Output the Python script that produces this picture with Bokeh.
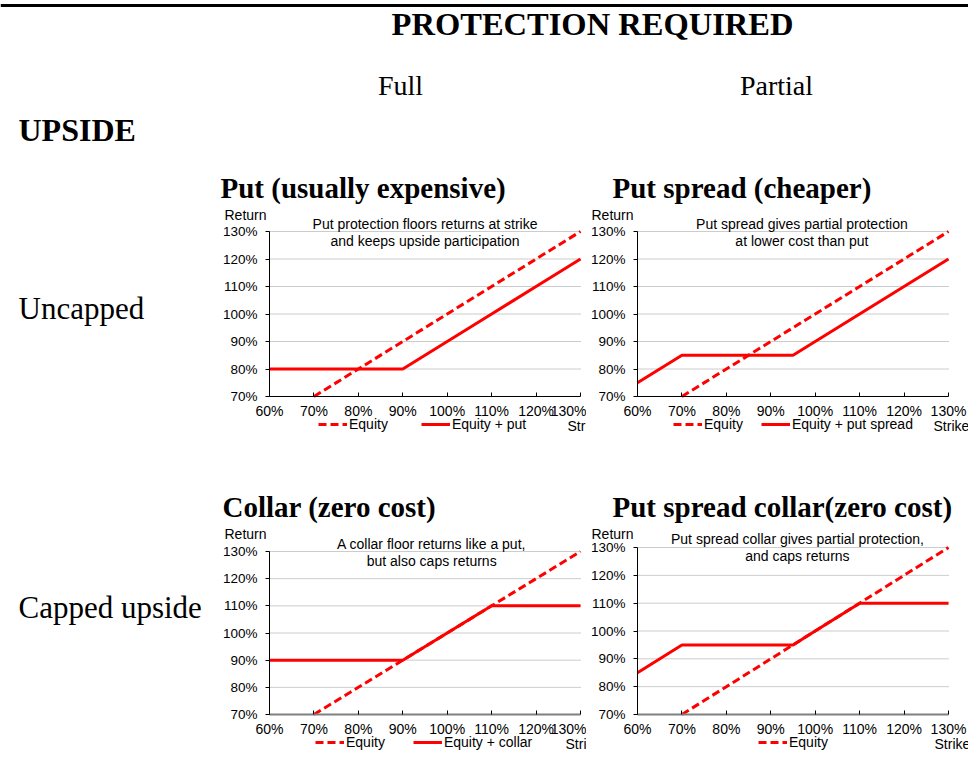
from bokeh.plotting import figure
from bokeh.models import Range1d, FixedTicker, Label, Legend, LegendItem
from bokeh.layouts import row, column
from bokeh.core.properties import value
from bokeh.embed import file_html
from bokeh.resources import INLINE

SANS = "Liberation Sans"
SERIF = "Liberation Serif"
RED = "#FF0000"

# ---------------- text ----------------
header_title = "PROTECTION REQUIRED"
col_labels = ["Full", "Partial"]
upside_label = "UPSIDE"
row_labels = ["Uncapped", "Capped upside"]

chart_titles = ["Put (usually expensive)", "Put spread (cheaper)",
                "Collar (zero cost)", "Put spread collar(zero cost)"]
chart_notes = [
    ["Put protection floors returns at strike", "and keeps upside participation"],
    ["Put spread gives partial protection", "at lower cost than put"],
    ["A collar floor returns like a put,", "but also caps returns"],
    ["Put spread collar gives partial protection,", "and caps returns"],
]
hedge_labels = ["Equity + put", "Equity + put spread", "Equity + collar", None]
equity_label = "Equity"
y_title = "Return"
x_title = "Strike"

# ---------------- axes ----------------
x_ticks = [60, 70, 80, 90, 100, 110, 120, 130]
x_tick_labels = ["60%", "70%", "80%", "90%", "100%", "110%", "120%", "130%"]
y_ticks = [70, 80, 90, 100, 110, 120, 130]
y_tick_labels = ["70%", "80%", "90%", "100%", "110%", "120%", "130%"]

# ---------------- data ----------------
equity_strike = [70, 80, 90, 100, 110, 120, 130]
equity_return = [70, 80, 90, 100, 110, 120, 130]

put_strike = [60, 70, 80, 90, 100, 110, 120, 130]
put_return = [80, 80, 80, 80, 90, 100, 110, 120]

spread_strike = [60, 70, 80, 90, 95, 100, 110, 120, 130]
spread_return = [75, 85, 85, 85, 85, 90, 100, 110, 120]

collar_strike = [60, 70, 80, 90, 100, 110, 120, 130]
collar_return = [90, 90, 90, 90, 100, 110, 110, 110]

psc_strike = [60, 70, 80, 90, 95, 100, 110, 120, 130]
psc_return = [85, 95, 95, 95, 95, 100, 110, 110, 110]

hedge_data = [(put_strike, put_return), (spread_strike, spread_return),
              (collar_strike, collar_return), (psc_strike, psc_return)]

# ---------------- layout params (pixels) ----------------
PLOT_W = 311
# (fig width, fig height, plot-box left, plot-box top, plot-box height)
geom = [
    (368, 320, 51, 61, 165),
    (382, 320, 51, 61, 165),
    (368, 267, 51, 61, 163),
    (382, 267, 51, 57, 167),
]
title_pos = [(2, 17), (26, 17), (4, 16), (26, 16)]       # left, baseline from top
return_pos = [(-3, 44), (-4, 44), (-3, 43), (-4, 43)]    # right rel. box, centre from top
note_x = [95, 97, 96.5, 96]
note_top = [(53, 70), (53, 70), (53, 70), (48, 65)]
strike_pos = [(349, 255), (347, 255), (347, 253), (348, 253)]
legend_pos = [(100, 255), (87, 255), (97, 253), (172, 253)]
legend_spacing = [33, 18, 28, 18]
xaxis_color = ["black", "black", "#808080", "#808080"]
xaxis_width = [1, 1, 2, 2]


def make_chart(i):
    W, H, L, T, FH = geom[i]
    sx = PLOT_W / (x_ticks[-1] - x_ticks[0])
    sy = FH / (y_ticks[-1] - y_ticks[0])
    xr = Range1d(x_ticks[0] - L / sx, x_ticks[-1] + (W - L - PLOT_W) / sx)
    yr = Range1d(y_ticks[0] - (H - T - FH) / sy, y_ticks[-1] + T / sy)
    p = figure(width=W, height=H, x_range=xr, y_range=yr,
               toolbar_location=None, output_backend="svg", min_border=0,
               outline_line_color=None)
    p.title.visible = False
    p.background_fill_color = "white"
    p.border_fill_color = "white"
    p.xgrid.visible = False
    p.ygrid.visible = False

    # dotted horizontal gridlines at the y ticks
    gy = y_ticks[1:]
    p.segment(x0=[x_ticks[0]] * len(gy), x1=[x_ticks[-1]] * len(gy), y0=gy, y1=gy,
              line_color="#999999", line_width=1, line_dash="1 1")

    r_eq = p.line(equity_strike, equity_return, line_color=RED, line_width=3,
                  line_dash="8 4")
    xs, ys = hedge_data[i]
    r_h = p.line(xs, ys, line_color=RED, line_width=3)

    # axes
    xa = p.xaxis[0]
    xa.fixed_location = y_ticks[0]
    xa.bounds = (x_ticks[0], x_ticks[-1])
    xa.ticker = FixedTicker(ticks=x_ticks)
    xa.major_label_overrides = dict(zip(x_ticks, x_tick_labels))
    xa.major_tick_in = 4
    xa.major_tick_out = 0
    xa.minor_tick_line_color = None
    xa.axis_line_color = xaxis_color[i]
    xa.axis_line_width = xaxis_width[i]
    xa.major_tick_line_color = "black"
    xa.major_label_standoff = 6
    xa.major_label_text_font = SANS
    xa.major_label_text_font_size = "14px"
    xa.major_label_text_color = "black"

    ya = p.yaxis[0]
    ya.fixed_location = x_ticks[0]
    ya.bounds = (y_ticks[0], y_ticks[-1])
    ya.ticker = FixedTicker(ticks=y_ticks)
    ya.major_label_overrides = dict(zip(y_ticks, y_tick_labels))
    ya.major_tick_in = 0
    ya.major_tick_out = 4
    ya.minor_tick_line_color = None
    ya.axis_line_color = "black"
    ya.major_tick_line_color = "black"
    ya.major_label_standoff = 8
    ya.major_label_text_font = SANS
    ya.major_label_text_font_size = "13.5px"
    ya.major_label_text_color = "black"

    tx, tb = title_pos[i]
    p.add_layout(Label(x=tx, y=H - tb, x_units="screen", y_units="screen",
                       text=chart_titles[i], text_font=SERIF, text_font_size="29px",
                       text_font_style="bold", text_align="left",
                       text_baseline="alphabetic", text_color="black"))
    rx, rt = return_pos[i]
    p.add_layout(Label(x=L + rx, y=H - rt, x_units="screen", y_units="screen",
                       text=y_title, text_font=SANS, text_font_size="14px",
                       text_align="right", text_baseline="middle", text_color="black"))
    for line_txt, nt in zip(chart_notes[i], note_top[i]):
        p.add_layout(Label(x=note_x[i], y=H - nt, x_units="data", y_units="screen",
                           text=line_txt, text_font=SANS, text_font_size="14px",
                           text_align="center", text_baseline="middle",
                           text_color="black"))
    sxp, st = strike_pos[i]
    p.add_layout(Label(x=sxp, y=H - st, x_units="screen", y_units="screen",
                       text=x_title, text_font=SANS, text_font_size="14px",
                       text_align="left", text_baseline="middle", text_color="black"))

    items = [LegendItem(label=equity_label, renderers=[r_eq])]
    if hedge_labels[i]:
        items.append(LegendItem(label=hedge_labels[i], renderers=[r_h]))
    lx, lt = legend_pos[i]
    leg = Legend(items=items, location=(lx, H - lt - 7), orientation="horizontal",
                 glyph_width=29, glyph_height=14, label_height=14, label_standoff=2,
                 spacing=legend_spacing[i], padding=0, margin=0,
                 border_line_color=None, background_fill_alpha=0,
                 label_text_font=SANS, label_text_font_size="14px",
                 label_text_color="black")
    p.add_layout(leg)
    return p


def blank(w, h):
    f = figure(width=w, height=h, x_range=Range1d(0, w), y_range=Range1d(h, 0),
               x_axis_type=None, y_axis_type=None, toolbar_location=None,
               output_backend="svg", min_border=0, outline_line_color=None)
    f.title.visible = False
    for g in f.grid:
        g.visible = False
    return f


# header
hdr = blank(968, 170)
hdr.segment(x0=[0], y0=[5], x1=[968], y1=[5], line_color="black", line_width=3)
hdr.text(x=[592], y=[23], text=[header_title], text_font=value(SERIF),
         text_font_size="32.5px", text_font_style="bold", text_align="center",
         text_baseline="alphabetic", text_color="black")
hdr.text(x=[400, 776], y=[85, 85], text=col_labels, text_font=value(SERIF),
         text_font_size="28px", text_align="center", text_baseline="alphabetic",
         text_color="black")
hdr.text(x=[18], y=[129], text=[upside_label], text_font=value(SERIF),
         text_font_size="32px", text_font_style="bold", text_align="left",
         text_baseline="alphabetic", text_color="black")

lab1 = blank(218, 320)
lab1.text(x=[18], y=[138], text=[row_labels[0]], text_font=value(SERIF),
          text_font_size="31px", text_align="left", text_baseline="alphabetic",
          text_color="black")
lab2 = blank(218, 267)
lab2.text(x=[18], y=[117], text=[row_labels[1]], text_font=value(SERIF),
          text_font_size="31px", text_align="left", text_baseline="alphabetic",
          text_color="black")

charts = [make_chart(i) for i in range(4)]

layout = column(hdr, row(lab1, charts[0], charts[1]), row(lab2, charts[2], charts[3]))

open("out.html", "w").write(file_html(layout, INLINE))
